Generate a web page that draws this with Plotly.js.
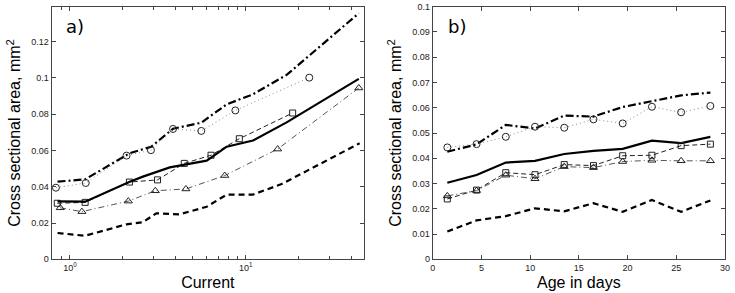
<!DOCTYPE html>
<html>
<head>
<meta charset="utf-8">
<script src="https://cdn.plot.ly/plotly-3.0.1.min.js"></script>
<style>html,body{margin:0;padding:0;background:#fff;}#chart{width:735px;height:293px;}</style>
</head>
<body>
<div id="chart"></div>
<script>
// ---- Panel a) : Cross sectional area vs Current (log x) ----
const aCircX = [0.832, 1.23, 2.10, 2.89, 3.86, 5.59, 8.73, 23.0];
const aCircY = [0.0395, 0.0421, 0.0572, 0.0602, 0.0719, 0.0708, 0.0821, 0.1002];
const aSqX = [0.847, 1.22, 2.18, 3.15, 4.47, 6.35, 9.2, 18.5];
const aSqY = [0.0309, 0.0314, 0.0426, 0.0438, 0.0529, 0.0574, 0.0665, 0.0807];
const aTriX = [0.88, 1.17, 2.15, 3.06, 4.57, 7.6, 15.2, 44.0];
const aTriY = [0.0284, 0.0263, 0.0321, 0.0378, 0.0388, 0.0462, 0.0608, 0.0945];
const aMedX = [0.85, 1.22, 2.19, 2.6, 3.7, 6.0, 7.8, 11.0, 17.1, 44];
const aMedY = [0.032, 0.0318, 0.0428, 0.0456, 0.0507, 0.0544, 0.0621, 0.0655, 0.0755, 0.0995];
const aLowX = [0.85, 1.22, 2.1, 2.6, 3.1, 4.2, 6.0, 7.8, 11.0, 16.0, 44.5];
const aLowY = [0.0145, 0.013, 0.0193, 0.0205, 0.0254, 0.0248, 0.029, 0.0357, 0.0357, 0.0415, 0.064];
const aHighX = [0.85, 1.22, 2.19, 2.9, 3.86, 5.6, 7.8, 11.0, 17.1, 44];
const aHighY = [0.0428, 0.0441, 0.0585, 0.0621, 0.072, 0.0754, 0.0855, 0.091, 0.1017, 0.1357];

// ---- Panel b) : Cross sectional area vs Age in days ----
const bAge = [1.5, 4.5, 7.5, 10.5, 13.5, 16.5, 19.5, 22.5, 25.5, 28.5];
const bCircY = [0.0443, 0.0456, 0.0485, 0.0525, 0.0521, 0.0554, 0.0538, 0.0604, 0.0582, 0.0607];
const bSqY = [0.0239, 0.0274, 0.0343, 0.0335, 0.0375, 0.0371, 0.041, 0.0412, 0.045, 0.0456];
const bTriY = [0.0251, 0.0272, 0.0333, 0.0319, 0.0367, 0.0363, 0.0387, 0.0392, 0.039, 0.039];
const bMedY = [0.0303, 0.0334, 0.0383, 0.039, 0.0417, 0.0429, 0.0437, 0.047, 0.046, 0.0485];
const bLowY = [0.011, 0.0154, 0.0171, 0.0202, 0.019, 0.0222, 0.0188, 0.0235, 0.0188, 0.0233];
const bHighY = [0.0426, 0.0455, 0.0532, 0.0518, 0.0569, 0.0565, 0.0603, 0.0626, 0.0649, 0.066];

// ---- Tick labels ----
const aXTickVals = [1, 10];
const aXTickText = ['10<sup>0</sup>', '10<sup>1</sup>'];
const aXMinorVals = [0.9, 2, 3, 4, 5, 6, 7, 8, 9, 20, 30, 40];
const aYTickVals = [0, 0.02, 0.04, 0.06, 0.08, 0.1, 0.12];
const aYTickText = ['0', '0.02', '0.04', '0.06', '0.08', '0.1', '0.12'];
const bXTickVals = [0, 5, 10, 15, 20, 25, 30];
const bYTickVals = [0, 0.01, 0.02, 0.03, 0.04, 0.05, 0.06, 0.07, 0.08, 0.09, 0.1];
const bYTickText = ['0', '0.01', '0.02', '0.03', '0.04', '0.05', '0.06', '0.07', '0.08', '0.09', '0.1'];

const FONT = 'Liberation Sans, Arial, sans-serif';

function series(x, y, xa, ya, style) {
  return Object.assign({x: x, y: y, xaxis: xa, yaxis: ya, showlegend: false, hoverinfo: 'skip'}, style);
}
const sCirc = {mode: 'lines+markers', line: {color: '#8a8a8a', width: 1, dash: '1px,3px'},
  marker: {symbol: 'circle-open', size: 7, color: '#222', line: {width: 1}}};
const sSq = {mode: 'lines+markers', line: {color: '#222', width: 1, dash: '5px,3px'},
  marker: {symbol: 'square-open', size: 6, color: '#222', line: {width: 1}}};
const sTri = {mode: 'lines+markers', line: {color: '#555', width: 1, dash: '6px,3px,1px,3px'},
  marker: {symbol: 'triangle-up-open', size: 7, color: '#222', line: {width: 1}}};
const sMed = {mode: 'lines', line: {color: '#000', width: 2.2}};
const sLow = {mode: 'lines', line: {color: '#000', width: 2.2, dash: '6px,4px'}};
const sHigh = {mode: 'lines', line: {color: '#000', width: 2.2, dash: '8px,3px,2px,3px'}};

const data = [
  series(aHighX, aHighY, 'x', 'y', sHigh),
  series(aCircX, aCircY, 'x', 'y', sCirc),
  series(aSqX, aSqY, 'x', 'y', sSq),
  series(aMedX, aMedY, 'x', 'y', sMed),
  series(aTriX, aTriY, 'x', 'y', sTri),
  series(aLowX, aLowY, 'x', 'y', sLow),
  series(bAge, bHighY, 'x2', 'y2', sHigh),
  series(bAge, bCircY, 'x2', 'y2', sCirc),
  series(bAge, bMedY, 'x2', 'y2', sMed),
  series(bAge, bSqY, 'x2', 'y2', sSq),
  series(bAge, bTriY, 'x2', 'y2', sTri),
  series(bAge, bLowY, 'x2', 'y2', sLow)
];

const axisCommon = {
  showline: true, linecolor: '#444', linewidth: 1, mirror: 'ticks',
  ticks: 'inside', ticklen: 4, tickcolor: '#444', showgrid: false, zeroline: false,
  tickfont: {family: FONT, size: 9, color: '#222'}
};
const titleFont = {family: FONT, size: 16, color: '#000'};

const layout = {
  width: 735, height: 293,
  margin: {l: 0, r: 0, t: 0, b: 0},
  paper_bgcolor: '#fff', plot_bgcolor: '#fff',
  xaxis: Object.assign({}, axisCommon, {
    domain: [0.0703, 0.4952], anchor: 'y', type: 'log', range: [-0.104, 1.673],
    tickmode: 'array', tickvals: aXTickVals, ticktext: aXTickText,
    minor: {tickmode: 'array', tickvals: aXMinorVals, ticks: 'inside', ticklen: 3, tickcolor: '#444', showgrid: false},
    title: {text: 'Current', font: titleFont, standoff: 4}
  }),
  yaxis: Object.assign({}, axisCommon, {
    domain: [0.115, 0.977], anchor: 'x', range: [0, 0.1393],
    tickmode: 'array', tickvals: aYTickVals, ticktext: aYTickText,
    title: {text: 'Cross sectional area, mm<sup>2</sup>', font: titleFont, standoff: 6}
  }),
  xaxis2: Object.assign({}, axisCommon, {
    domain: [0.5887, 0.9864], anchor: 'y2', range: [0, 30],
    tickmode: 'array', tickvals: bXTickVals,
    title: {text: 'Age in days', font: titleFont, standoff: 4}
  }),
  yaxis2: Object.assign({}, axisCommon, {
    domain: [0.115, 0.977], anchor: 'x2', range: [0, 0.1],
    tickmode: 'array', tickvals: bYTickVals, ticktext: bYTickText,
    title: {text: 'Cross sectional area, mm<sup>2</sup>', font: titleFont, standoff: 6}
  }),
  annotations: [
    {text: 'a)', xref: 'x domain', yref: 'y domain', x: 0.04, y: 0.92, xanchor: 'left', yanchor: 'middle',
     showarrow: false, font: {family: 'DejaVu Sans, sans-serif', size: 18, color: '#000'}},
    {text: 'b)', xref: 'x2 domain', yref: 'y2 domain', x: 0.045, y: 0.92, xanchor: 'left', yanchor: 'middle',
     showarrow: false, font: {family: 'DejaVu Sans, sans-serif', size: 18, color: '#000'}}
  ]
};

Plotly.newPlot('chart', data, layout, {staticPlot: true, displayModeBar: false});
</script>
</body>
</html>
